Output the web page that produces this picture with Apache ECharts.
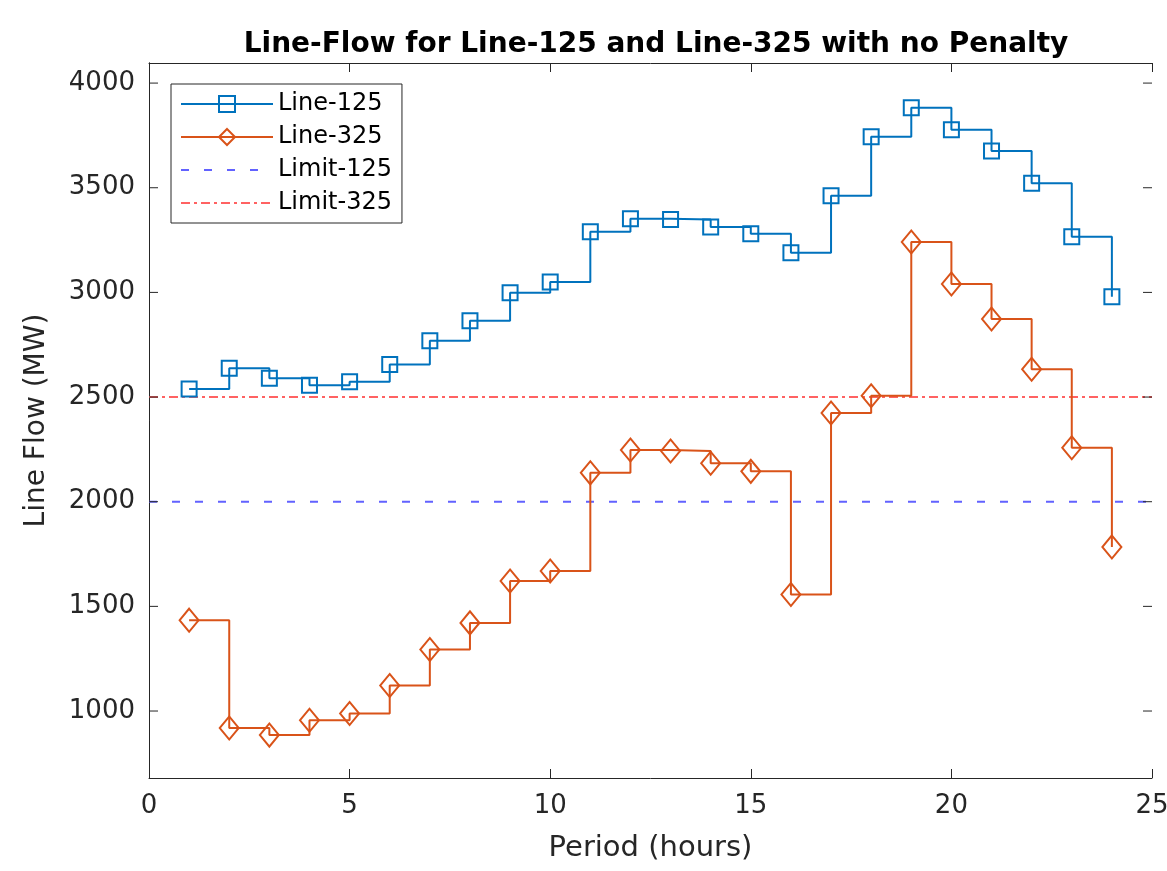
<!DOCTYPE html>
<html>
<head>
<meta charset="utf-8">
<script src="https://cdn.jsdelivr.net/npm/echarts@6/dist/echarts.min.js"></script>
<style>html,body{margin:0;padding:0;background:#fff}#c{width:1167px;height:871px}</style>
</head>
<body>
<div id="c"></div>
<script>
const periods = [1,2,3,4,5,6,7,8,9,10,11,12,13,14,15,16,17,18,19,20,21,22,23,24];
const line125 = [2538,2638,2590,2557,2573,2656,2769,2864,2998,3050,3290,3352,3348,3312,3280,3190,3462,3744,3882,3777,3676,3522,3266,2979];
const line325 = [1434,919,885,956,988,1122,1294,1421,1621,1669,2138,2247,2242,2184,2145,1557,2424,2506,3241,3040,2873,2633,2258,1784];
const limit125 = 2000;
const limit325 = 2500;
const yTicks = [1000,1500,2000,2500,3000,3500,4000];
const xRange = [0,25];
const yRange = [680,4096];

const font = 'DejaVu Sans, Liberation Sans, sans-serif';
const axisCol = '#262626';
const tickLen = 9;
const chart = echarts.init(document.getElementById('c'), null, {renderer:'canvas'});

const pairs = (ys) => periods.map((p,i)=>[p, ys[i]]);

chart.setOption({
  animation:false,
  backgroundColor:'#fff',
  title:{
    text:'Line-Flow for Line-125 and Line-325 with no Penalty',
    left:651, top:26, textAlign:'center',
    textStyle:{fontFamily:font, fontWeight:'bold', fontSize:28, color:'#000'}
  },
  grid:{left:149, right:15, top:63, bottom:93, containLabel:false, outerBoundsMode:'none'},
  legend:{
    orient:'vertical', left:171, top:84,
    padding:[8,10,8,9],
    itemWidth:92, itemHeight:20, itemGap:9,
    borderColor:'#262626', borderWidth:1, backgroundColor:'#fff',
    lineStyle:{width:2},
    textStyle:{fontFamily:font, fontSize:24, color:'#000'},
    data:['Line-125','Line-325','Limit-125','Limit-325']
  },
  xAxis:[{
    type:'value', min:xRange[0], max:xRange[1], interval:5,
    name:'Period (hours)', nameLocation:'middle', nameGap:56,
    nameTextStyle:{fontFamily:font, fontSize:29, color:axisCol},
    axisLine:{lineStyle:{color:axisCol, width:1}},
    axisTick:{inside:true, length:tickLen, lineStyle:{color:axisCol}},
    axisLabel:{fontFamily:font, fontSize:26, color:axisCol, margin:15},
    splitLine:{show:false}
  },{
    type:'value', position:'top', min:xRange[0], max:xRange[1], interval:5,
    axisLine:{show:true, lineStyle:{color:axisCol, width:1}},
    axisTick:{inside:true, length:tickLen, lineStyle:{color:axisCol}},
    axisLabel:{show:false}, splitLine:{show:false}
  }],
  yAxis:[{
    type:'value', min:yRange[0], max:yRange[1],
    name:'Line Flow (MW)', nameLocation:'middle', nameGap:98,
    nameTextStyle:{fontFamily:font, fontSize:28, color:axisCol},
    axisLine:{show:true, lineStyle:{color:axisCol, width:1}},
    axisTick:{show:false},
    axisLabel:{fontFamily:font, fontSize:26, color:axisCol, margin:14, customValues:yTicks,
      formatter:(v)=>String(v)},
    splitLine:{show:false}
  },{
    type:'value', position:'right', min:yRange[0], max:yRange[1],
    axisLine:{show:true, lineStyle:{color:axisCol, width:1}},
    axisTick:{show:false},
    axisLabel:{show:false}, splitLine:{show:false}
  }],
  series:[{
    name:'Line-125', type:'line', step:'end', data:pairs(line125),
    symbol:'rect', symbolSize:15, showSymbol:true,
    lineStyle:{color:'#0072BD', width:2},
    itemStyle:{color:'rgba(255,255,255,0)', borderColor:'#0072BD', borderWidth:2},
    z:5
  },{
    name:'Line-325', type:'line', step:'end', data:pairs(line325),
    symbol:'diamond', symbolSize:[19,23], showSymbol:true,
    lineStyle:{color:'#D95319', width:2},
    itemStyle:{color:'rgba(255,255,255,0)', borderColor:'#D95319', borderWidth:2},
    z:5
  },{
    name:'Limit-125', type:'line', data:[[xRange[0],limit125],[xRange[1],limit125]],
    symbol:'none', lineStyle:{color:'#6262ff', width:2, type:[8,15]},
    itemStyle:{color:'rgba(0,0,0,0)', borderWidth:0}, z:3
  },{
    name:'Limit-325', type:'line', data:[[xRange[0],limit325],[xRange[1],limit325]],
    symbol:'none', lineStyle:{color:'#ff6262', width:2, type:[9,4,3,4]},
    itemStyle:{color:'rgba(0,0,0,0)', borderWidth:0}, z:3
  },{
    name:'yTicks', type:'custom', silent:true, clip:false, z:6,
    data:yTicks.map(v=>[xRange[0], v]),
    encode:{x:0, y:1},
    renderItem:(params, api)=>{
      const v = api.value(1);
      const pL = api.coord([xRange[0], v]);
      const pR = api.coord([xRange[1], v]);
      const st = {stroke:axisCol, lineWidth:1};
      return {type:'group', children:[
        {type:'line', shape:{x1:pL[0], y1:pL[1], x2:pL[0]+tickLen, y2:pL[1]}, style:st},
        {type:'line', shape:{x1:pR[0]-tickLen, y1:pR[1], x2:pR[0], y2:pR[1]}, style:st}
      ]};
    }
  }]
});
</script>
</body>
</html>
